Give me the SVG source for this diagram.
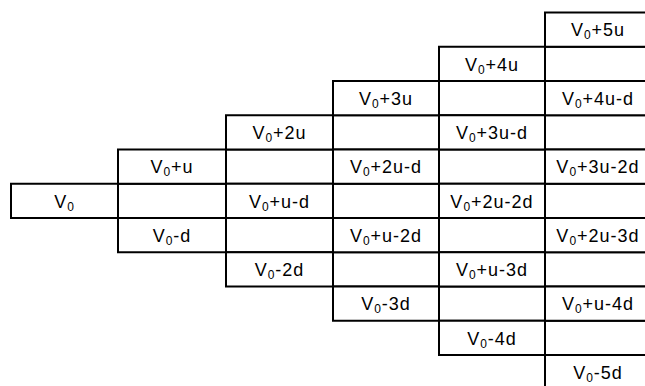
<svg xmlns="http://www.w3.org/2000/svg" width="645" height="386" viewBox="0 0 645 386">
<style>
rect{fill:#fff;stroke:#000;stroke-width:2}
text{font-family:"Liberation Sans",Arial,sans-serif;font-size:18px;letter-spacing:1px;text-anchor:middle;fill:#000}
.s{font-size:12px}
</style>
<rect x="0" y="0" width="645" height="386" style="stroke:none"/>
<g id="empty-cells">
<rect x="118" y="183.75" width="108" height="34.25"/>
<rect x="226" y="149.5" width="107" height="34.25"/>
<rect x="226" y="218" width="107" height="34.25"/>
<rect x="333" y="115.25" width="106" height="34.25"/>
<rect x="333" y="183.75" width="106" height="34.25"/>
<rect x="333" y="252.25" width="106" height="34.25"/>
<rect x="439" y="81" width="106" height="34.25"/>
<rect x="439" y="149.5" width="106" height="34.25"/>
<rect x="439" y="218" width="106" height="34.25"/>
<rect x="439" y="286.5" width="106" height="34.25"/>
<rect x="545" y="46.75" width="107" height="34.25"/>
<rect x="545" y="115.25" width="107" height="34.25"/>
<rect x="545" y="183.75" width="107" height="34.25"/>
<rect x="545" y="252.25" width="107" height="34.25"/>
<rect x="545" y="320.75" width="107" height="34.25"/>
</g>
<g id="n0"><rect x="11" y="183.75" width="107" height="34.25"/><text x="64.5" y="207.5">V<tspan class="s" dy="3">0</tspan></text></g>
<g id="n1a"><rect x="118" y="149.5" width="108" height="34.25"/><text x="172" y="173">V<tspan class="s" dy="3">0</tspan><tspan dy="-3">+u</tspan></text></g>
<g id="n1b"><rect x="118" y="218" width="108" height="34.25"/><text x="172" y="241.5">V<tspan class="s" dy="3">0</tspan><tspan dy="-3">-d</tspan></text></g>
<g id="n2a"><rect x="226" y="115.25" width="107" height="34.25"/><text x="279.5" y="139">V<tspan class="s" dy="3">0</tspan><tspan dy="-3">+2u</tspan></text></g>
<g id="n2b"><rect x="226" y="183.75" width="107" height="34.25"/><text x="279.5" y="207.5">V<tspan class="s" dy="3">0</tspan><tspan dy="-3">+u-d</tspan></text></g>
<g id="n2c"><rect x="226" y="252.25" width="107" height="34.25"/><text x="279.5" y="276">V<tspan class="s" dy="3">0</tspan><tspan dy="-3">-2d</tspan></text></g>
<g id="n3a"><rect x="333" y="81" width="106" height="34.25"/><text x="386" y="104.5">V<tspan class="s" dy="3">0</tspan><tspan dy="-3">+3u</tspan></text></g>
<g id="n3b"><rect x="333" y="149.5" width="106" height="34.25"/><text x="386" y="173">V<tspan class="s" dy="3">0</tspan><tspan dy="-3">+2u-d</tspan></text></g>
<g id="n3c"><rect x="333" y="218" width="106" height="34.25"/><text x="386" y="241.5">V<tspan class="s" dy="3">0</tspan><tspan dy="-3">+u-2d</tspan></text></g>
<g id="n3d"><rect x="333" y="286.5" width="106" height="34.25"/><text x="386" y="310">V<tspan class="s" dy="3">0</tspan><tspan dy="-3">-3d</tspan></text></g>
<g id="n4a"><rect x="439" y="46.75" width="106" height="34.25"/><text x="492" y="70.5">V<tspan class="s" dy="3">0</tspan><tspan dy="-3">+4u</tspan></text></g>
<g id="n4b"><rect x="439" y="115.25" width="106" height="34.25"/><text x="492" y="139">V<tspan class="s" dy="3">0</tspan><tspan dy="-3">+3u-d</tspan></text></g>
<g id="n4c"><rect x="439" y="183.75" width="106" height="34.25"/><text x="492" y="207.5">V<tspan class="s" dy="3">0</tspan><tspan dy="-3">+2u-2d</tspan></text></g>
<g id="n4d"><rect x="439" y="252.25" width="106" height="34.25"/><text x="492" y="276">V<tspan class="s" dy="3">0</tspan><tspan dy="-3">+u-3d</tspan></text></g>
<g id="n4e"><rect x="439" y="320.75" width="106" height="34.25"/><text x="492" y="344.5">V<tspan class="s" dy="3">0</tspan><tspan dy="-3">-4d</tspan></text></g>
<g id="n5a"><rect x="545" y="12.5" width="107" height="34.25"/><text x="598" y="36">V<tspan class="s" dy="3">0</tspan><tspan dy="-3">+5u</tspan></text></g>
<g id="n5b"><rect x="545" y="81" width="107" height="34.25"/><text x="598" y="104.5">V<tspan class="s" dy="3">0</tspan><tspan dy="-3">+4u-d</tspan></text></g>
<g id="n5c"><rect x="545" y="149.5" width="107" height="34.25"/><text x="598" y="173">V<tspan class="s" dy="3">0</tspan><tspan dy="-3">+3u-2d</tspan></text></g>
<g id="n5d"><rect x="545" y="218" width="107" height="34.25"/><text x="598" y="241.5">V<tspan class="s" dy="3">0</tspan><tspan dy="-3">+2u-3d</tspan></text></g>
<g id="n5e"><rect x="545" y="286.5" width="107" height="34.25"/><text x="598" y="310">V<tspan class="s" dy="3">0</tspan><tspan dy="-3">+u-4d</tspan></text></g>
<g id="n5f"><rect x="545" y="355" width="107" height="40"/><text x="598" y="379">V<tspan class="s" dy="3">0</tspan><tspan dy="-3">-5d</tspan></text></g>
<g id="connectors"/>
</svg>
